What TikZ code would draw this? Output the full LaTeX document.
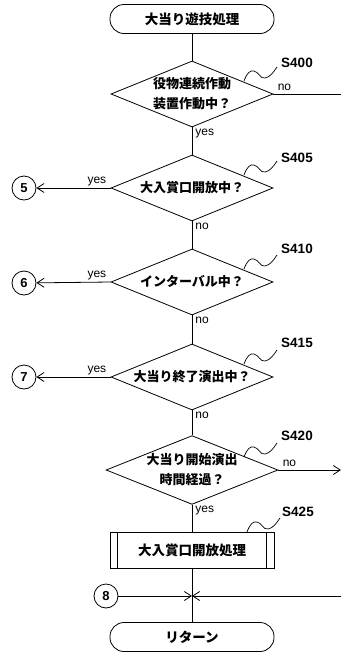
\documentclass[tikz,border=0pt]{standalone}
\usepackage{fontspec}
\setmainfont{Liberation Sans}
\newfontfamily\cjk{Noto Sans CJK JP}
\usetikzlibrary{shapes.geometric,arrows.meta}
\begin{document}
\begin{tikzpicture}[x=1pt,y=-1pt,line width=0.8pt,
  term/.style={draw,rounded corners=14pt,minimum width=164pt,minimum height=29pt,inner sep=0pt,font=\cjk\bfseries\fontsize{13.5}{16}\selectfont},
  decision/.style={draw,diamond,aspect=2.5,minimum width=162pt,minimum height=66pt,inner sep=0pt,align=center,font=\cjk\bfseries\fontsize{13}{20}\selectfont},
  procbox/.style={draw,rectangle,minimum width=164pt,minimum height=36pt,inner sep=0pt,font=\cjk\bfseries\fontsize{13.5}{16}\selectfont},
  conn/.style={draw,circle,minimum size=24pt,inner sep=0pt,font=\bfseries\fontsize{13}{15}\selectfont},
  steplabel/.style={font=\bfseries\fontsize{13.5}{15}\selectfont},
  yn/.style={font=\fontsize{12}{14}\selectfont,inner sep=1pt},
  arr/.style={-{Straight Barb[length=7pt,width=9pt]}},
  squig/.pic={\draw[line width=0.7pt] (0,0) .. controls (3,-8) and (6,-11) .. (10,-10) .. controls (15,-9) and (16,-2) .. (21,-3) .. controls (26,-4) and (29,-8) .. (33,-14);}
]
\fill[white] (0,0) rectangle (341,656);
\node[term] (start) at (192,19) {大当り遊技処理};
\node[decision] (d400) at (192,94) {役物連続作動\\装置作動中？};
\node[decision] (d405) at (192,188) {大入賞口開放中？};
\node[decision] (d410) at (192,282) {インターバル中？};
\node[decision] (d415) at (192,377) {大当り終了演出中？};
\node[decision] (d420) at (192,470) {大当り開始演出\\時間経過？};
\node[procbox] (p425) at (192,550) {大入賞口開放処理};
\node[term] (ret) at (192,637) {リターン};
\draw (p425.north west) ++(8,0) coordinate (pl1) -- (pl1 |- p425.south);
\draw (p425.north east) ++(-8,0) coordinate (pr1) -- (pr1 |- p425.south);

\node[conn] (c5) at (24,188) {5};
\node[conn] (c6) at (24,283) {6};
\node[conn] (c7) at (24,377) {7};
\node[conn] (c8) at (106,596) {8};

\coordinate (e400) at (341,94);
\coordinate (e420) at (341,470);
\coordinate (e8) at (341,596);
\coordinate (junc) at (192,596);

\node[steplabel] (l400) at (297,63) {S400};
\node[steplabel] (l405) at (297,158) {S405};
\node[steplabel] (l410) at (297,249) {S410};
\node[steplabel] (l415) at (297,343) {S415};
\node[steplabel] (l420) at (297,436) {S420};
\node[steplabel] (l425) at (298,512) {S425};
\pic at (244,81) {squig};
\pic at (244,175) {squig};
\pic at (244,269) {squig};
\pic at (244,364) {squig};
\pic at (244,457) {squig};
\pic at (247,532) {squig};

\draw (start) -- (d400);
\draw (d400) -- (d405);
\draw (d405) -- (d410);
\draw (d410) -- (d415);
\draw (d415) -- (d420);
\draw (d420) -- (p425);
\draw (p425) -- (ret);
\draw (d400.east) -- (e400);
\draw[arr] (d420.east) -- (e420);
\draw[arr] (d405.west) -- (c5);
\draw[arr] (d410.west) -- (c6);
\draw[arr] (d415.west) -- (c7);
\draw[arr] (c8) -- (junc);
\draw[arr] (e8) -- (junc);

\node[yn,anchor=north west] at ([xshift=2pt]d400.south) {yes};
\node[yn,anchor=north west] at ([xshift=2pt]d405.south) {no};
\node[yn,anchor=north west] at ([xshift=2pt]d410.south) {no};
\node[yn,anchor=north west] at ([xshift=2pt]d415.south) {no};
\node[yn,anchor=north west] at ([xshift=2pt]d420.south) {yes};
\node[yn,anchor=south west] at ([xshift=3pt,yshift=2pt]d400.east) {no};
\node[yn,anchor=south west] at ([xshift=3pt,yshift=2pt]d420.east) {no};
\node[yn,anchor=south east] at ([xshift=-3pt,yshift=1pt]d405.west) {yes};
\node[yn,anchor=south east] at ([xshift=-3pt,yshift=1pt]d410.west) {yes};
\node[yn,anchor=south east] at ([xshift=-3pt,yshift=1pt]d415.west) {yes};
\end{tikzpicture}
\end{document}
